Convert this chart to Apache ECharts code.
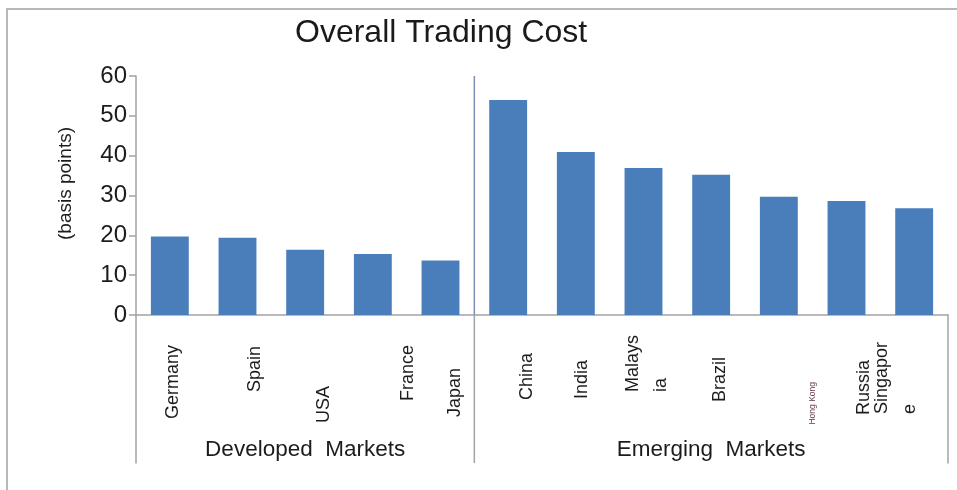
<!DOCTYPE html>
<html>
<head>
<meta charset="utf-8">
<title>Overall Trading Cost</title>
<script src="https://cdn.jsdelivr.net/npm/echarts@6/dist/echarts.min.js"></script>
<style>
  html, body { margin: 0; padding: 0; background: #fff; }
  #wrap { position: relative; width: 957px; height: 490px; }
  #chart { width: 957px; height: 490px; }
  #frame {
    position: absolute; left: 6px; top: 8px; right: 0; bottom: 0;
    border-left: 2px solid #b8b8b8; border-top: 2px solid #b8b8b8;
    pointer-events: none;
  }
</style>
</head>
<body>
<div id="wrap">
  <div id="chart"></div>
  <div id="frame"></div>
</div>
<script>
// ---- data ----
const categories = ['Germany', 'Spain', 'USA', 'France', 'Japan',
                    'China', 'India', 'Malaysia', 'Brazil', 'Hong Kong', 'Russia', 'Singapore'];
const costBp = [19.7, 19.4, 16.4, 15.3, 13.7,
                54.0, 40.9, 36.9, 35.2, 29.7, 28.6, 26.8];
const groupNames = ['Developed  Markets', 'Emerging  Markets'];
const groupSizes = [5, 7];
const yTickValues = [0, 10, 20, 30, 40, 50, 60];
// labels that wrap onto two lines
const wrappedLabels = {
  'Malaysia': ['Malays', 'ia'],
  'Singapore': ['Singapor', 'e']
};

// ---- layout / style ----
const FONT = '"Liberation Sans", Arial, sans-serif';
const TEXT = '#1c1c1c';
const AXIS = '#a3a3a3';
// per-label offset: [down, right] in px
const labelNudge = {
  'Germany': [12, 3], 'Spain': [13, 18], 'USA': [53, 19], 'France': [12, 35],
  'Japan': [35, 15], 'China': [20, 19], 'India': [27, 6], 'Malaysia': [2, 4],
  'Brazil': [24, 9], 'Hong Kong': [49, 34], 'Russia': [27, 18], 'Singapore': [9, -18]
};
const smallLabels = { 'Hong Kong': { fontSize: 8.5, color: '#6a3a4a' } };

const categoryItems = categories.map(function (name) {
  const n = labelNudge[name] || [0, 0];
  const right = n[1];
  const style = {
    padding: [right > 0 ? 2 * right : 0, n[0], right < 0 ? -2 * right : 0, 0]
  };
  if (smallLabels[name]) Object.assign(style, smallLabels[name]);
  return { value: name, textStyle: style };
});

// centre category of each group and the boundary between the groups
const groupLabelAt = {};
let start = 0;
groupSizes.forEach(function (size, g) {
  groupLabelAt[start + Math.floor(size / 2)] = groupNames[g];
  start += size;
});
const boundary = groupSizes[0];

const chart = echarts.init(document.getElementById('chart'), null, { renderer: 'canvas' });

const option = {
  animation: false,
  backgroundColor: '#ffffff',
  title: {
    text: 'Overall Trading Cost',
    left: 295, top: 17, padding: 0,
    textStyle: { fontFamily: FONT, fontSize: 32, fontWeight: 'normal', color: '#1a1a1a' }
  },
  grid: [
    { left: 136, right: 9, top: 76, height: 239, outerBoundsMode: 'none' },
    { left: 136, right: 9, top: 315, height: 148, outerBoundsMode: 'none' }
  ],
  xAxis: [
    {
      type: 'category', gridIndex: 0, data: categoryItems,
      axisLine: { show: true, lineStyle: { color: AXIS, width: 1.5 } },
      axisTick: { show: false },
      splitLine: { show: false },
      axisLabel: {
        interval: 0, rotate: 90, margin: 18,
        fontFamily: FONT, fontSize: 18, color: TEXT, lineHeight: 28,
        formatter: function (value) {
          const lines = wrappedLabels[value];
          if (!lines) return value;
          return lines.map(function (l, i) { return (i === 0 ? '{a|' : '{b|') + l + '}'; }).join('\n');
        },
        rich: {
          a: { fontFamily: FONT, fontSize: 18, color: TEXT, lineHeight: 28 },
          b: { fontFamily: FONT, fontSize: 18, color: TEXT, lineHeight: 28, align: 'left' }
        }
      }
    },
    {
      type: 'category', gridIndex: 1, data: categories,
      axisLine: { show: false },
      axisTick: { show: false },
      splitLine: { show: false },
      axisLabel: {
        inside: true, interval: 0, margin: 2,
        fontFamily: FONT, fontSize: 22.5, color: TEXT,
        formatter: function (value, index) { return groupLabelAt[index] || ''; }
      }
    }
  ],
  yAxis: [
    {
      type: 'value', gridIndex: 0,
      min: yTickValues[0], max: yTickValues[yTickValues.length - 1],
      interval: yTickValues[1] - yTickValues[0],
      axisLine: { show: true, lineStyle: { color: AXIS, width: 1.5 } },
      axisTick: { show: true, length: 7, lineStyle: { color: AXIS, width: 1.5 } },
      splitLine: { show: false },
      axisLabel: { margin: 9, fontFamily: FONT, fontSize: 24, color: TEXT },
      name: '(basis points)',
      nameLocation: 'middle', nameGap: 61,
      nameTextStyle: { fontFamily: FONT, fontSize: 19, color: TEXT, padding: [0, 0, 0, 24] }
    },
    {
      type: 'value', gridIndex: 1, min: 0, max: 1,
      axisLine: { show: true, lineStyle: { color: AXIS, width: 1.5 } },
      axisTick: { show: false }, axisLabel: { show: false }, splitLine: { show: false }
    },
    {
      type: 'value', gridIndex: 1, min: 0, max: 1, position: 'right',
      axisLine: { show: true, lineStyle: { color: AXIS, width: 1.5 } },
      axisTick: { show: false }, axisLabel: { show: false }, splitLine: { show: false }
    }
  ],
  series: [
    {
      type: 'bar', xAxisIndex: 0, yAxisIndex: 0,
      data: costBp,
      barCategoryGap: '44%',
      itemStyle: { color: '#4a7ebb' }
    }
  ]
};

chart.setOption(option);

// divider between the two market groups, placed on the category boundary
const xLeft = chart.convertToPixel({ xAxisIndex: 0 }, categories[boundary - 1]);
const xRight = chart.convertToPixel({ xAxisIndex: 0 }, categories[boundary]);
const xDiv = (xLeft + xRight) / 2;
const yTop = chart.convertToPixel({ yAxisIndex: 0 }, yTickValues[yTickValues.length - 1]);
const yBase = chart.convertToPixel({ yAxisIndex: 0 }, 0);
const yBottom = chart.convertToPixel({ yAxisIndex: 1 }, 0);

chart.setOption({
  graphic: [
    {
      type: 'line', z: 5, silent: true,
      shape: { x1: xDiv, y1: yTop, x2: xDiv, y2: yBase },
      style: { stroke: '#7d8fb4', lineWidth: 1.5 }
    },
    {
      type: 'line', z: 5, silent: true,
      shape: { x1: xDiv, y1: yBase, x2: xDiv, y2: yBottom },
      style: { stroke: AXIS, lineWidth: 1.5 }
    }
  ]
});
</script>
</body>
</html>
